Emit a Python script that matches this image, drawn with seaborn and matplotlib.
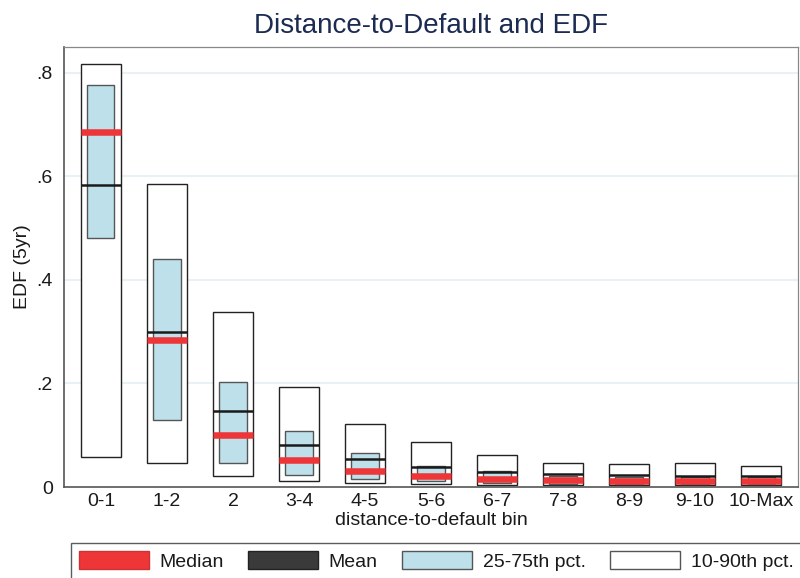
import matplotlib
matplotlib.use("Agg")
import matplotlib.pyplot as plt
from matplotlib.patches import Patch
import seaborn as sns
import pandas as pd
import numpy as np

bins = ["0-1", "1-2", "2", "3-4", "4-5", "5-6", "6-7", "7-8", "8-9", "9-10", "10-Max"]
p10 = [0.057, 0.046, 0.021, 0.011, 0.008, 0.005, 0.004, 0.003, 0.003, 0.003, 0.003]
p25 = [0.481, 0.129, 0.046, 0.023, 0.015, 0.011, 0.008, 0.005, 0.005, 0.005, 0.005]
p75 = [0.776, 0.440, 0.203, 0.108, 0.065, 0.041, 0.031, 0.021, 0.020, 0.020, 0.019]
p90 = [0.817, 0.585, 0.338, 0.193, 0.121, 0.086, 0.062, 0.046, 0.044, 0.046, 0.041]
mean = [0.584, 0.300, 0.147, 0.082, 0.054, 0.039, 0.029, 0.025, 0.023, 0.021, 0.021]
median = [0.685, 0.284, 0.100, 0.052, 0.031, 0.021, 0.015, 0.013, 0.012, 0.011, 0.012]
yticks = [0, 0.2, 0.4, 0.6, 0.8]
ytick_labels = ["0", ".2", ".4", ".6", ".8"]

df = pd.DataFrame({"bin": bins, "p10": p10, "p25": p25, "p75": p75, "p90": p90,
                   "mean": mean, "median": median})
df["outer_h"] = df["p90"] - df["p10"]
df["inner_h"] = df["p75"] - df["p25"]

sns.set_theme(style="white")
plt.rcParams["font.family"] = ["Liberation Sans", "DejaVu Sans"]
plt.rcParams["text.color"] = "#1a1a1a"
plt.rcParams["axes.labelcolor"] = "#1a1a1a"
plt.rcParams["xtick.color"] = "#1a1a1a"
plt.rcParams["ytick.color"] = "#1a1a1a"

RED = "#ee3638"
BLUE = "#bde0ea"
DARK = "#3a3a3a"

fig = plt.figure(figsize=(8, 5.78), dpi=100)
ax = fig.add_axes([64 / 800, 1 - 487 / 578, (798 - 64) / 800, (487 - 47) / 578])

for y in yticks[1:]:
    ax.axhline(y, color="#e8f1f4", lw=1.5, zorder=0)

sns.barplot(data=df, x="bin", y="outer_h", bottom=df["p10"].values, width=0.606,
            color="white", edgecolor="#222222", linewidth=1.0, saturation=1, ax=ax, zorder=2)
sns.barplot(data=df, x="bin", y="inner_h", bottom=df["p25"].values, width=0.41,
            color=BLUE, edgecolor="#555555", linewidth=1.0, saturation=1, ax=ax, zorder=3)

xs = np.arange(len(bins))
ax.hlines(df["mean"], xs - 0.303, xs + 0.303, color="#1a1a1a", lw=1.8, zorder=4)
ax.hlines(df["median"], xs - 0.303, xs + 0.303, color=RED, lw=4.7, zorder=5)

ax.set_xlim(-0.56, 10.56)
ax.set_ylim(0, 0.85)
ax.set_yticks(yticks)
ax.set_yticklabels(ytick_labels)
ax.tick_params(axis="y", length=5, width=1, color="#333333", labelsize=14, pad=3)
ax.tick_params(axis="x", length=0, labelsize=14, pad=4)
ax.set_xlabel("distance-to-default bin", fontsize=14, labelpad=2)
ax.set_ylabel("EDF (5yr)", fontsize=14, labelpad=4)
ax.set_title("Distance-to-Default and EDF", fontsize=20, color="#1c2b52", pad=10)

for s in ["left", "bottom"]:
    ax.spines[s].set_color("#555555")
    ax.spines[s].set_linewidth(1.2)
for s in ["top", "right"]:
    ax.spines[s].set_color("#888888")
    ax.spines[s].set_linewidth(0.9)

handles = [
    Patch(facecolor=RED, edgecolor="#cc3333", label="Median"),
    Patch(facecolor=DARK, edgecolor="#222222", label="Mean"),
    Patch(facecolor=BLUE, edgecolor="#555555", label="25-75th pct."),
    Patch(facecolor="white", edgecolor="#555555", label="10-90th pct."),
]
leg = fig.legend(handles=handles, loc="upper left", bbox_to_anchor=(71 / 800, (578 - 543) / 578),
                 ncol=4, fontsize=14, frameon=True, fancybox=False, borderaxespad=0,
                 handlelength=3.6, handleheight=1.1, handletextpad=0.55, columnspacing=1.25,
                 borderpad=0.4)
leg.get_frame().set_edgecolor("#333333")
leg.get_frame().set_linewidth(1.0)

fig.savefig("out.png", dpi=100)
